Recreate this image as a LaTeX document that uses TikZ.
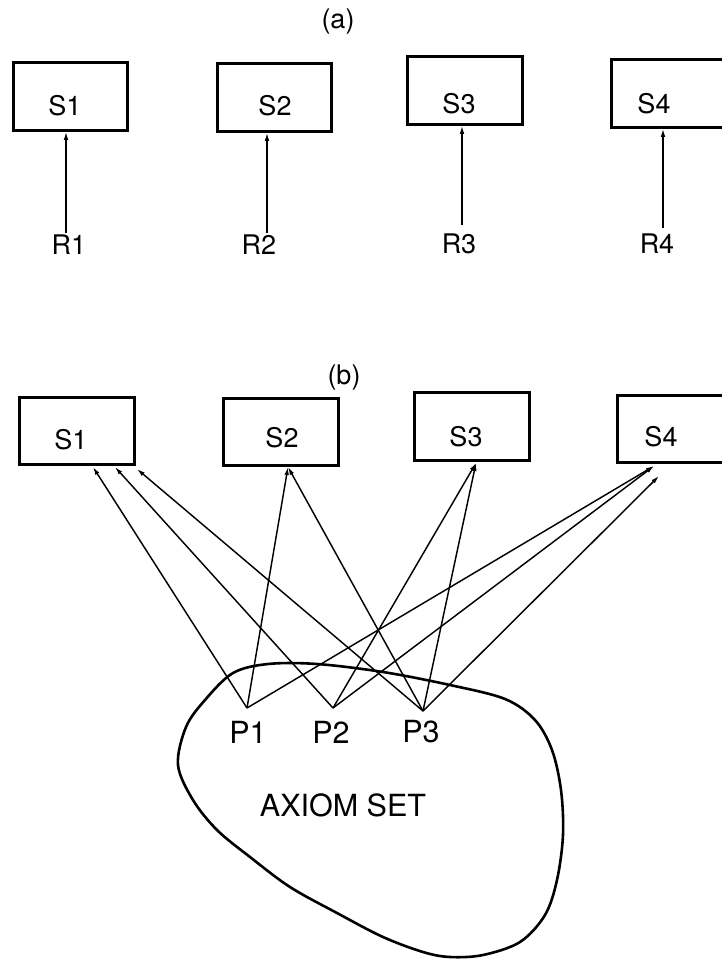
\documentclass[tikz,border=0pt]{standalone}
\usepackage{fontspec}
\setmainfont{TeX Gyre Heros}
\usetikzlibrary{arrows.meta}
\begin{document}
\begin{tikzpicture}[x=1pt,y=-1pt,
  sbox/.style={draw, line width=3pt, minimum width=114.5pt, minimum height=67.5pt, inner sep=0pt},
  lbl/.style={font=\fontsize{27}{31}\selectfont, inner sep=0pt},
  plbl/.style={font=\fontsize{30.5}{35}\selectfont, inner sep=0pt},
  link/.style={line width=1.45pt, -{Latex[length=8pt,width=4.6pt]}},
  blob/.style={line width=2.6pt}]
\useasboundingbox (0,0) rectangle (722,959);
\clip (0,0) rectangle (722,959);

% ---------- (a): one rule per statement ----------
\node[lbl] (capa) at (338,22) {(a)};

\node[sbox] (sa1) at (70.5,96.5) {};
\node[sbox] (sa2) at (274.5,97.5) {};
\node[sbox] (sa3) at (465,90.5) {};
\node[sbox] (sa4) at (668.5,93.5) {};

\node[lbl] (tsa1) at (65,105.5) {S1};
\node[lbl] (tsa2) at (275,105.5) {S2};
\node[lbl] (tsa3) at (459,103.5) {S3};
\node[lbl] (tsa4) at (654,103.5) {S4};

\node[lbl] (r1) at (69,245) {R1};
\node[lbl] (r2) at (259,245) {R2};
\node[lbl] (r3) at (459,244) {R3};
\node[lbl] (r4) at (657,244) {R4};

\coordinate (ta1) at (66,233);
\coordinate (ta2) at (267,233);
\coordinate (ta3) at (462,225);
\coordinate (ta4) at (663,228);

\draw[link] (ta1) -- (ta1 |- sa1.south);
\draw[link] (ta2) -- (ta2 |- sa2.south);
\draw[link] (ta3) -- (ta3 |- sa3.south);
\draw[link] (ta4) -- (ta4 |- sa4.south);

% ---------- (b): statements derived from a shared axiom set ----------
\node[lbl] (capb) at (344,378) {(b)};

\node[sbox] (sb1) at (77,431) {};
\node[sbox] (sb2) at (281,432) {};
\node[sbox] (sb3) at (472,426.5) {};
\node[sbox] (sb4) at (675,429) {};

\node[lbl] (tsb1) at (71,440) {S1};
\node[lbl] (tsb2) at (282,438) {S2};
\node[lbl] (tsb3) at (466,437) {S3};
\node[lbl] (tsb4) at (661,437) {S4};

% the axiom set
\draw[blob] plot[smooth cycle, tension=0.55] coordinates {
  (178,765) (186,727) (205,700) (233,673) (268,664) (317,664)
  (383,672) (450,685) (505,699) (535,720) (552,750) (561,790)
  (563,835) (557,880) (545,915) (520,942) (483,955) (450,957)
  (423,952) (383,937) (337,913) (290,887) (250,857) (217,830)
  (193,800)};

\node[plbl] (axioms) at (343,805) {AXIOM SET};
\node[plbl] (lp1) at (248,732) {P1};
\node[plbl] (lp2) at (331,732) {P2};
\node[plbl] (lp3) at (421,732) {P3};

% premise points and arrow heads
\coordinate (p1) at (247,708);
\coordinate (p2) at (333,708);
\coordinate (p3) at (423,711);

\coordinate (h11) at (93,467);
\coordinate (h12) at (115,467);
\coordinate (h13) at (137,469);
\coordinate (h21) at (288,467);
\coordinate (h31) at (476,463);
\coordinate (h41) at (654,466);
\coordinate (h42) at (659,476);

\draw[link] (p1) -- (h11);
\draw[link] (p2) -- (h12);
\draw[link] (p3) -- (h13);
\draw[link] (p1) -- (h21);
\draw[link] (p3) -- (h21);
\draw[link] (p2) -- (h31);
\draw[link] (p3) -- (h31);
\draw[link] (p1) -- (h41);
\draw[link] (p2) -- (h41);
\draw[link] (p3) -- (h42);
\end{tikzpicture}
\end{document}
